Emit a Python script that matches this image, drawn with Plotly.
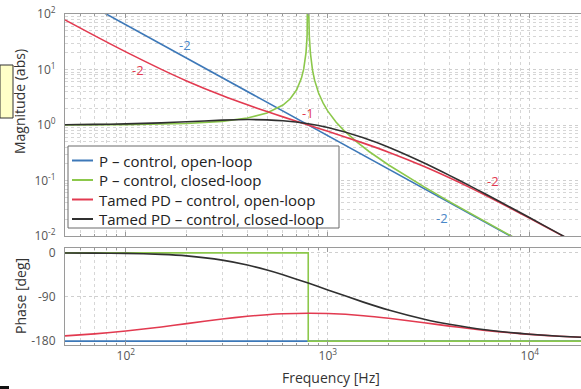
import plotly.graph_objects as go

# ---------------- data ----------------
# P-control, open loop
f_p_ol = [50, 100, 200, 500, 1000, 2000, 5000, 10000, 18000]
mag_p_ol = [256, 64, 16, 2.56, 0.64, 0.16, 0.0256, 0.0064, 0.00198]
ph_p_ol = [-180, -180, -180, -180, -180, -180, -180, -180, -180]

# P-control, closed loop
f_p_cl = [50, 100, 200, 300, 400, 500, 600, 650, 700, 740, 760, 780, 790, 795, 798, 800,
          802, 805, 810, 820, 840, 860, 900, 950, 1000, 1100, 1200, 1400, 1600, 2000,
          2500, 3000, 4000, 5000, 6000, 8000, 10000, 18000]
mag_p_cl = [1.004, 1.016, 1.067, 1.164, 1.333, 1.641, 2.286, 2.94, 4.27, 6.93, 10.26, 20.2,
            40.3, 80, 200, 10000, 200, 80, 39.7, 19.8, 9.76, 6.43, 3.76, 2.44, 1.778, 1.123,
            0.8, 0.485, 0.333, 0.1905, 0.1141, 0.0766, 0.04167, 0.0263, 0.0181, 0.0101,
            0.00644, 0.00198]
f_p_cl_ph = [50, 800, 800, 18000]
ph_p_cl = [0, 0, -180, -180]

# Tamed PD-control, open loop / closed loop
f_pd = [50, 70, 100, 150, 200, 300, 400, 500, 600, 800, 1000, 1500, 2000, 3000, 4000,
        5000, 6000, 8000, 10000, 14000, 18000]
mag_pd_ol = [78.3, 40.76, 20.76, 10.04, 6.225, 3.39, 2.305, 1.743, 1.4005, 1.0, 0.7707,
             0.4716, 0.3234, 0.1788, 0.112, 0.07604, 0.05471, 0.03196, 0.02083, 0.01081,
             0.006586]
ph_pd_ol = [-169.3, -165.2, -159.5, -151.2, -144.4, -135.0, -129.4, -126.1, -124.3, -123.2,
            -123.8, -128.15, -133.4, -142.6, -149.4, -154.4, -158.1, -163.1, -166.3, -170.1,
            -172.2]
mag_pd_cl = [1.0127, 1.0243, 1.047, 1.094, 1.1437, 1.2218, 1.2525, 1.2374, 1.1917, 1.0513,
             0.898, 0.5896, 0.3978, 0.2068, 0.1237, 0.0816, 0.0576, 0.03297, 0.02126,
             0.01093, 0.00663]
ph_pd_cl = [-0.14, -0.5, -1.0, -3.0, -6.1, -14.8, -24.8, -35.0, -44.6, -61.6, -75.5, -100.5,
            -116.6, -135.4, -145.8, -152.4, -156.9, -162.55, -166.0, -170.0, -172.15]

series_names = ["P – control, open-loop", "P – control, closed-loop",
                "Tamed PD – control, open-loop", "Tamed PD – control, closed-loop"]
colors = ["#3d78b8", "#8cc84b", "#e23a50", "#303030"]

x_tick_vals = [100, 1000, 10000]
x_tick_text = ["10<sup>2</sup>", "10<sup>3</sup>", "10<sup>4</sup>"]
mag_tick_vals = [0.01, 0.1, 1, 10, 100]
mag_tick_text = ["10<sup>-2</sup>", "10<sup>-1</sup>", "10<sup>0</sup>", "10<sup>1</sup>", "10<sup>2</sup>"]
ph_tick_vals = [0, -90, -180]
ph_tick_text = ["0", "-90", "-180"]

# slope labels: (text, log10 f, log10 |G|, colour index)
slope_labels = [("-2", 2.293, 1.44, 0), ("-2", 2.06, 0.99, 2), ("-1", 2.90, 0.22, 2),
                ("-2", 3.82, -1.01, 2), ("-2", 3.565, -1.676, 0)]

# ---------------- figure ----------------
W, H = 581, 389
FONT = "Open Sans"
fig = go.Figure()

mag_data = [(f_p_ol, mag_p_ol), (f_p_cl, mag_p_cl), (f_pd, mag_pd_ol), (f_pd, mag_pd_cl)]
ph_data = [(f_p_ol, ph_p_ol), (f_p_cl_ph, ph_p_cl), (f_pd, ph_pd_ol), (f_pd, ph_pd_cl)]


def line_style(i):
    if i >= 2:
        return dict(color=colors[i], width=1.6, shape="spline", smoothing=0.6)
    return dict(color=colors[i], width=1.6)


for i, (fx, fy) in enumerate(mag_data):
    fig.add_trace(go.Scatter(x=fx, y=fy, mode="lines", name=series_names[i],
                             showlegend=False, line=line_style(i), xaxis="x", yaxis="y"))
for i, (fx, fy) in enumerate(ph_data):
    fig.add_trace(go.Scatter(x=fx, y=fy, mode="lines", name=series_names[i],
                             showlegend=False, line=line_style(i), xaxis="x2", yaxis="y2"))

x0 = 65 / W
xr = [1.69897, 1.69897 + 516 / 202]
grid = dict(gridcolor="#cfcfcf", griddash="dot", gridwidth=1)
minor_x = dict(tickvals=[m * 10 ** k for k in (1, 2, 3, 4) for m in range(2, 10)],
               showgrid=True, gridcolor="#d6d6d6", griddash="dot", ticks="inside",
               ticklen=2, tickcolor="#999")
tickfont = dict(family=FONT, size=12, color="#555")

fig.update_layout(
    width=W, height=H, margin=dict(l=0, r=0, t=0, b=0, pad=0, autoexpand=False),
    paper_bgcolor="white", plot_bgcolor="white",
    showlegend=False,
    xaxis=dict(type="log", domain=[x0, 1], range=xr, anchor="y", automargin=False,
               tickvals=x_tick_vals, showticklabels=False, showline=True, linecolor="#9a9a9a",
               mirror="ticks", ticks="inside", ticklen=4, tickcolor="#999",
               minor=minor_x, **grid),
    yaxis=dict(type="log", domain=[1 - 236 / H, 1 - 14 / H], range=[-2, 2], anchor="x",
               automargin=False,
               tickvals=mag_tick_vals, ticktext=mag_tick_text, tickfont=tickfont,
               showline=True, linecolor="#9a9a9a", ticks="", ticklabelstandoff=6,
               minor=dict(tickvals=[m * 10 ** k for k in (-2, -1, 0, 1) for m in range(2, 10)],
                          showgrid=True, gridcolor="#d6d6d6", griddash="dot"),
               **grid),
    xaxis2=dict(type="log", domain=[x0, 1], range=xr, anchor="y2", automargin=False,
                tickvals=x_tick_vals, ticktext=x_tick_text, tickfont=tickfont,
                showline=True, linecolor="#9a9a9a", mirror="ticks", ticks="inside",
                ticklen=4, tickcolor="#999", minor=minor_x, **grid),
    yaxis2=dict(domain=[1 - 345 / H, 1 - 248 / H], range=[-188, 10], anchor="x2",
                automargin=False,
                tickvals=ph_tick_vals, ticktext=ph_tick_text, tickfont=tickfont,
                showline=True, linecolor="#9a9a9a", ticks="", ticklabelstandoff=6,
                zeroline=False, **grid),
)

ann = []
for txt, lx, ly, ci in slope_labels:
    ann.append(dict(text=txt, x=lx, y=ly, xref="x", yref="y", showarrow=False,
                    xanchor="center", yanchor="middle",
                    font=dict(family=FONT, size=13, color=colors[ci] if ci != 0 else "#4a88c8")))
ann += [
    dict(text="Magnitude (abs)", x=20 / W, y=1 - 102 / H, xref="paper", yref="paper",
         xanchor="center", yanchor="middle",
         showarrow=False, textangle=-90, font=dict(family=FONT, size=14, color="#333")),
    dict(text="Phase [deg]", x=20 / W, y=1 - 296 / H, xref="paper", yref="paper",
         xanchor="center", yanchor="middle",
         showarrow=False, textangle=-90, font=dict(family=FONT, size=14, color="#333")),
    dict(text="Frequency [Hz]", x=331 / W, y=1 - 377 / H, xref="paper", yref="paper",
         xanchor="center", yanchor="middle",
         showarrow=False, font=dict(family=FONT, size=14, color="#333")),
]

shapes = [
    dict(type="rect", xref="paper", yref="paper", x0=0, x1=13 / W,
         y0=1 - 118 / H, y1=1 - 65 / H, fillcolor="#ffffc8",
         line=dict(color="#333", width=1)),
    dict(type="rect", xref="paper", yref="paper", x0=0, x1=9 / W,
         y0=1 - 389 / H, y1=1 - 386 / H, fillcolor="#111", line=dict(width=0)),
    # legend box
    dict(type="rect", xref="paper", yref="paper", x0=68 / W, x1=339 / W,
         y0=1 - 228 / H, y1=1 - 146 / H, fillcolor="white",
         line=dict(color="#6a6a6a", width=1), layer="above"),
]
legend_rows = [160.5, 180, 199.5, 219]
for i, name in enumerate(series_names):
    yy = 1 - legend_rows[i] / H
    shapes.append(dict(type="line", xref="paper", yref="paper", x0=72 / W, x1=93 / W,
                       y0=yy, y1=yy, line=dict(color=colors[i], width=2), layer="above"))
    ann.append(dict(text=name, x=98 / W, y=yy, xref="paper", yref="paper",
                    xanchor="left", yanchor="middle", showarrow=False, borderpad=0,
                    font=dict(family=FONT, size=15, color="#222")))

fig.update_layout(annotations=ann, shapes=shapes)

fig.write_html("out.html")
